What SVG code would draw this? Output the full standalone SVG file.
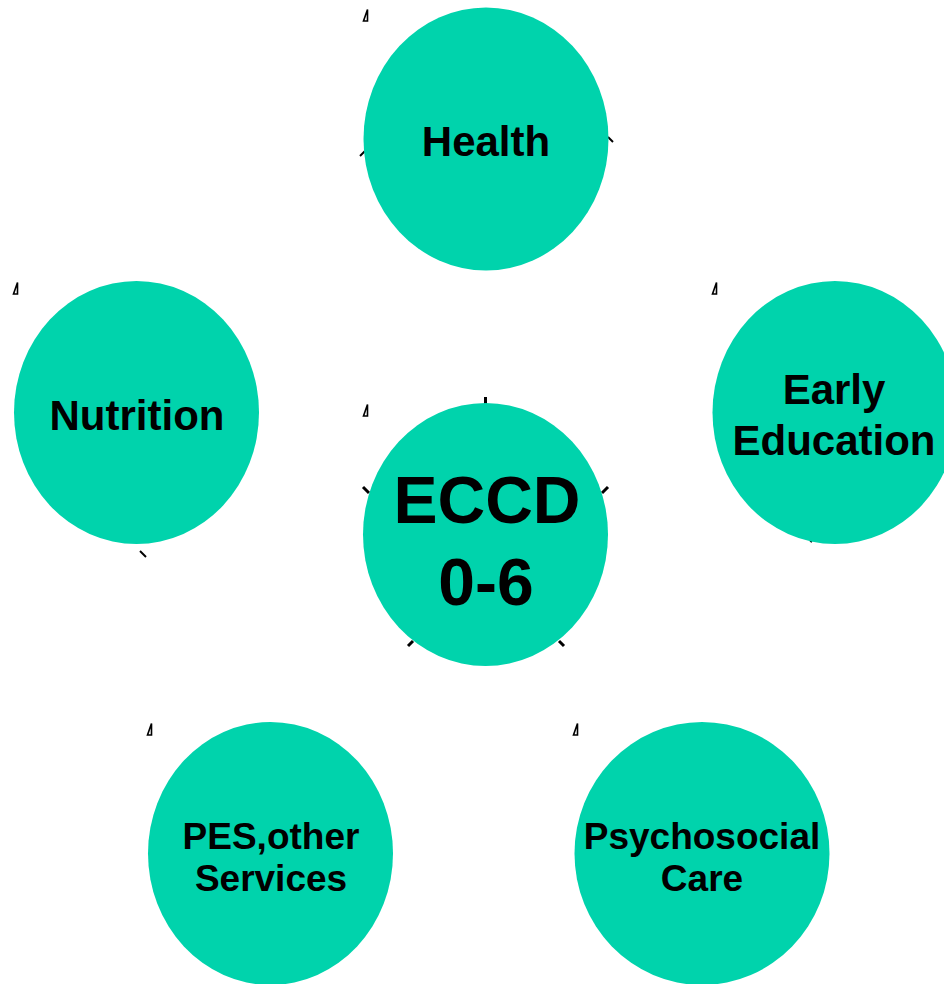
<svg xmlns="http://www.w3.org/2000/svg" xmlns:xlink="http://www.w3.org/1999/xlink" width="944" height="984" viewBox="0 0 944 984">
<style>
.c{fill:#00D3AC;}
.t{font-family:"Liberation Sans",Arial,sans-serif;font-weight:bold;fill:#000;text-anchor:middle;}
.k{stroke:#000;stroke-width:3;fill:none;}
.m{stroke:#000;stroke-width:1.6;fill:#fff;stroke-linejoin:miter;}
</style>
<defs>
<polygon id="tri" class="m" points="4.5,0.5 4.5,12 0.5,12"/>
</defs>
<rect width="944" height="984" fill="#fff"/>
<g id="connectors">
<line class="k" x1="360" y1="156" x2="365" y2="151" style="stroke-width:2"/>
<line class="k" x1="608" y1="137" x2="613" y2="142" style="stroke-width:2"/>
<line class="k" x1="485.5" y1="397" x2="485.5" y2="405"/>
<line class="k" x1="363" y1="487" x2="369" y2="493"/>
<line class="k" x1="608" y1="487" x2="602" y2="493"/>
<line class="k" x1="408" y1="646" x2="413" y2="641"/>
<line class="k" x1="564" y1="646" x2="559" y2="641"/>
<line class="k" x1="140" y1="551" x2="146" y2="557" style="stroke-width:2"/>
<line class="k" x1="810" y1="541" x2="812" y2="542" style="stroke-width:1.5"/>
</g>
<g id="health">
<ellipse class="c" cx="486" cy="139" rx="122.5" ry="131.5"/>
<use xlink:href="#tri" x="363" y="9"/>
<text class="t" x="486" y="156" font-size="42">Health</text>
</g>
<g id="nutrition">
<ellipse class="c" cx="136.5" cy="412.5" rx="122.5" ry="131.5"/>
<use xlink:href="#tri" x="13" y="282"/>
<text class="t" x="137" y="430" font-size="42">Nutrition</text>
</g>
<g id="early-education">
<ellipse class="c" cx="835" cy="412.5" rx="122.5" ry="131.5"/>
<use xlink:href="#tri" x="712" y="282"/>
<text class="t" x="834" y="404" font-size="42">Early</text>
<text class="t" x="834" y="455" font-size="42">Education</text>
</g>
<g id="eccd">
<ellipse class="c" cx="485.5" cy="534.5" rx="122.5" ry="131.5"/>
<use xlink:href="#tri" x="363" y="404"/>
<text class="t" x="487" y="523" font-size="66">ECCD</text>
<text class="t" x="486" y="605" font-size="66">0-6</text>
</g>
<g id="pes">
<ellipse class="c" cx="270.5" cy="853.5" rx="122.5" ry="131.5"/>
<use xlink:href="#tri" x="147" y="723"/>
<text class="t" x="271" y="849" font-size="37">PES,other</text>
<text class="t" x="271" y="891" font-size="37">Services</text>
</g>
<g id="psychosocial">
<ellipse class="c" cx="702" cy="853.5" rx="127.5" ry="131.5"/>
<use xlink:href="#tri" x="573" y="723"/>
<text class="t" x="702" y="849" font-size="37">Psychosocial</text>
<text class="t" x="702" y="891" font-size="37">Care</text>
</g>
</svg>
